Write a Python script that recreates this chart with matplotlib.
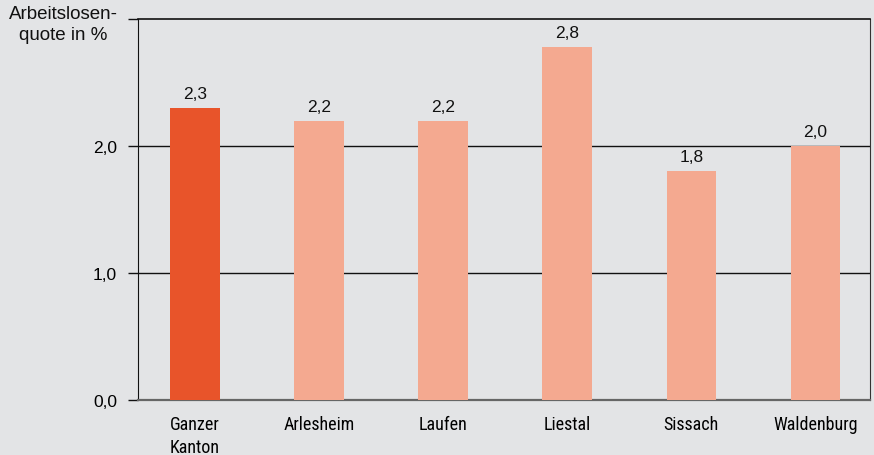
import matplotlib.pyplot as plt
from matplotlib import font_manager

# data
regions = ['Ganzer\nKanton', 'Arlesheim', 'Laufen', 'Liestal', 'Sissach', 'Waldenburg']
quote = [2.3, 2.2, 2.2, 2.78, 1.8, 2.0]
colors = ['#e8542a', '#f4a990', '#f4a990', '#f4a990', '#f4a990', '#f4a990']

names = set(f.name for f in font_manager.fontManager.ttflist)
narrow = 'Liberation Sans'
for cand in ['Roboto Condensed', 'Liberation Sans Narrow', 'DejaVu Sans Condensed']:
    if cand in names:
        narrow = cand
        break
plt.rcParams['font.family'] = ['Liberation Sans', 'DejaVu Sans']
bg = '#e3e4e6'
ink = '#111111'

fig = plt.figure(figsize=(8.74, 4.56), dpi=100, facecolor=bg)
ax = fig.add_axes([138 / 874, 1 - 401 / 456, 732 / 874, 381 / 456], facecolor=bg)

x = range(len(regions))
ax.bar(x, quote, width=0.40, color=colors, zorder=3)

# value labels
for i, v in enumerate(quote):
    ax.annotate(f'{v:.1f}'.replace('.', ','), (i, v), xytext=(0, 5), textcoords='offset points',
                ha='center', va='bottom', fontsize=12.5, color=ink)

# grid lines
for g in [1.0, 2.0]:
    ax.axhline(g, color=ink, lw=1, zorder=2)

ax.set_xlim(-0.46, 5.44)
ax.set_ylim(0, 3)
ax.set_yticks([0, 1, 2, 3])
ax.set_yticklabels(['0,0', '1,0', '2,0', ''])
ax.set_xticks(list(x))
ax.set_xticklabels(regions, fontsize=13, linespacing=1.35, va='top', family=[narrow, 'DejaVu Sans'])
ax.tick_params(axis='x', length=0, pad=11)
ax.tick_params(axis='y', length=7, width=1, color=ink, labelsize=12.5, pad=8)

ax.spines['left'].set_color(ink)
ax.spines['top'].set_color(ink)
ax.spines['top'].set_linewidth(1.2)
ax.spines['right'].set_color('#333333')
ax.spines['right'].set_linewidth(0.8)
ax.spines['bottom'].set_color('#666666')
ax.spines['bottom'].set_linewidth(1.6)

fig.text(63 / 874, 1 - 25 / 456, 'Arbeitslosen-\nquote in %', ha='center', va='center',
         fontsize=13.5, linespacing=1.35, color=ink)

fig.savefig('out.png', dpi=100, facecolor=bg)
